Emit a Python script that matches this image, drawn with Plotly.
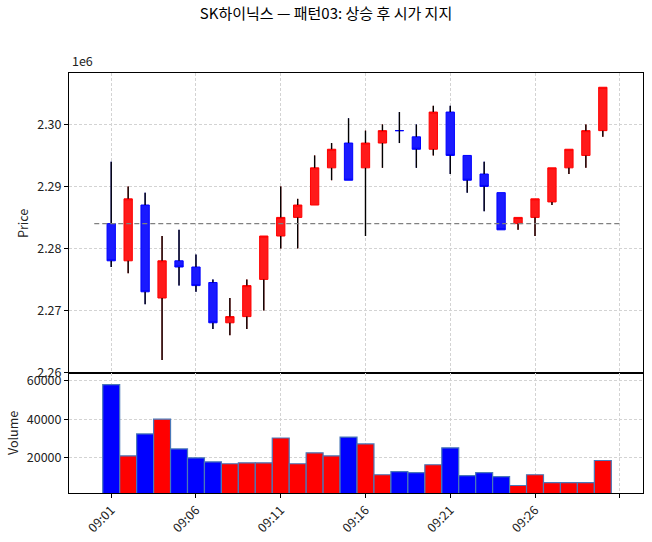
import plotly.graph_objects as go

TITLE = "SK하이닉스 — 패턴03: 상승 후 시가 지지"
TIMES = ["09:01", "09:02", "09:03", "09:04", "09:05", "09:06", "09:07", "09:08", "09:09", "09:10",
         "09:11", "09:12", "09:13", "09:14", "09:15", "09:16", "09:17", "09:18", "09:19", "09:20",
         "09:21", "09:22", "09:23", "09:24", "09:25", "09:26", "09:27", "09:28", "09:29", "09:30"]
OPEN = [2284000, 2278000, 2287000, 2272000, 2278000, 2277000, 2274500, 2268000, 2269000, 2275000,
        2282000, 2285000, 2287000, 2293000, 2297000, 2293000, 2297000, 2299000, 2298000, 2296000,
        2302000, 2295000, 2292000, 2289000, 2284000, 2285000, 2287500, 2293000, 2295000, 2299000]
HIGH = [2294000, 2290000, 2289000, 2282000, 2283000, 2279000, 2275000, 2272000, 2275000, 2282000,
        2290000, 2288000, 2295000, 2297000, 2301000, 2299000, 2300000, 2302000, 2300000, 2303000,
        2303000, 2295000, 2294000, 2289000, 2285000, 2288000, 2293000, 2296000, 2300000, 2306000]
LOW = [2277000, 2276000, 2271000, 2262000, 2274000, 2273000, 2267000, 2266000, 2267000, 2270000,
       2280000, 2280000, 2287000, 2291000, 2291000, 2282000, 2293000, 2297000, 2293000, 2295000,
       2292000, 2289000, 2286000, 2283000, 2283000, 2282000, 2287000, 2292000, 2293000, 2298000]
CLOSE = [2278000, 2288000, 2273000, 2278000, 2277000, 2274000, 2268000, 2269000, 2274000, 2282000,
         2285000, 2287000, 2293000, 2296000, 2291000, 2297000, 2299000, 2299000, 2296000, 2302000,
         2295000, 2291000, 2290000, 2283000, 2285000, 2288000, 2293000, 2296000, 2299000, 2306000]
VOLUME = [58100, 21000, 32400, 40100, 24600, 20000, 17900, 16900, 17400, 17400,
          30300, 16900, 22600, 21000, 30800, 27200, 11200, 12800, 12300, 16400,
          25200, 10700, 12300, 10200, 5600, 11200, 7100, 7100, 7100, 18600]
SUPPORT = 2284000
PRICE_TICKS = [2260000, 2270000, 2280000, 2290000, 2300000]
PRICE_TICK_TEXT = ["2.26", "2.27", "2.28", "2.29", "2.30"]
VOL_TICKS = [20000, 40000, 60000]
VOL_TICK_TEXT = ["20000", "40000", "60000"]
X_TICK_IDX = [0, 5, 10, 15, 20, 25, 30]

UP_FILL, UP_LINE = "#ff1a1a", "#ff0000"
DN_FILL, DN_LINE = "#1a1aff", "#0000ff"
FONT = "Noto Sans CJK KR"
TICK_SIZE = 12.5

n = len(TIMES)
xs = list(range(n))
up = [c > o for o, c in zip(OPEN, CLOSE)]

fig = go.Figure()

for is_up, fill, line in [(True, UP_FILL, UP_LINE), (False, DN_FILL, DN_LINE)]:
    idx = [i for i in xs if up[i] == is_up]
    fig.add_trace(go.Candlestick(
        x=[xs[i] for i in idx],
        open=[OPEN[i] for i in idx], high=[HIGH[i] for i in idx],
        low=[LOW[i] for i in idx], close=[CLOSE[i] for i in idx],
        increasing=dict(fillcolor=fill, line=dict(color=line, width=1)),
        decreasing=dict(fillcolor=fill, line=dict(color=line, width=1)),
        whiskerwidth=0, showlegend=False, hoverinfo="skip",
        xaxis="x", yaxis="y"))

wx, wy = [], []
for i in xs:
    top = max(OPEN[i], CLOSE[i])
    bot = min(OPEN[i], CLOSE[i])
    if HIGH[i] > top:
        wx += [xs[i], xs[i], None]
        wy += [HIGH[i], top, None]
    if LOW[i] < bot:
        wx += [xs[i], xs[i], None]
        wy += [bot, LOW[i], None]
fig.add_trace(go.Scatter(x=wx, y=wy, mode="lines", line=dict(color="black", width=1.4),
                         showlegend=False, hoverinfo="skip", xaxis="x", yaxis="y"))

fig.add_trace(go.Scatter(x=[-1, n], y=[SUPPORT, SUPPORT], mode="lines",
                         line=dict(color="#808080", width=1.2, dash="5px,3px"),
                         showlegend=False, hoverinfo="skip", xaxis="x", yaxis="y"))

fig.add_trace(go.Bar(x=xs, y=VOLUME, width=1.0,
                     marker=dict(color=[UP_LINE if u else DN_LINE for u in up],
                                 line=dict(color="#4a78b8", width=1.2)),
                     showlegend=False, hoverinfo="skip", xaxis="x2", yaxis="y2"))

xr = [-2.49, 31.37]
tick_text = [TIMES[i] if i < n else "" for i in X_TICK_IDX]
grid = dict(showgrid=True, gridcolor="#d3d3d3", gridwidth=0.8, griddash="3px,2px")
axis_common = dict(showline=True, linecolor="black", linewidth=1, mirror=True, zeroline=False,
                   automargin=False, tickfont=dict(family=FONT, size=TICK_SIZE, color="#222"))

fig.update_layout(
    width=652, height=542,
    margin=dict(l=69, r=9, t=73, b=49, autoexpand=False),
    paper_bgcolor="white", plot_bgcolor="white",
    title=dict(text=TITLE, x=0.5, xref="container", xanchor="center",
               y=1 - 14 / 542, yref="container", yanchor="middle",
               font=dict(family=FONT, size=15, color="black")),
    xaxis=dict(domain=[0, 1], range=xr, anchor="y", tickvals=X_TICK_IDX, ticktext=tick_text,
               showticklabels=False, ticks="", rangeslider=dict(visible=False),
               **grid, **axis_common),
    yaxis=dict(domain=[120 / 420, 1], range=[2259900, 2308300], anchor="x",
               tickvals=PRICE_TICKS, ticktext=PRICE_TICK_TEXT, ticks="outside",
               ticklen=4, tickcolor="black", **grid, **axis_common),
    xaxis2=dict(domain=[0, 1], range=xr, anchor="y2", matches="x", tickvals=X_TICK_IDX,
                ticktext=tick_text, tickangle=-45, ticks="outside", ticklen=4,
                tickcolor="black", **grid, **axis_common),
    yaxis2=dict(domain=[0, 120 / 420], range=[1700, 64100], anchor="x2",
                tickvals=VOL_TICKS, ticktext=VOL_TICK_TEXT, ticks="outside", ticklen=4,
                tickcolor="black", **grid, **axis_common),
    annotations=[
        dict(text="1e6", xref="paper", yref="paper", x=1 / 574, y=(493 - 72) / 420,
             xanchor="left", yanchor="bottom", showarrow=False,
             font=dict(family=FONT, size=TICK_SIZE, color="#222")),
        dict(text="Price", xref="paper", yref="paper", x=(22 - 69) / 574, y=(493 - 224) / 420,
             xanchor="center", yanchor="middle", textangle=-90, showarrow=False,
             font=dict(family=FONT, size=TICK_SIZE, color="#222")),
        dict(text="Volume", xref="paper", yref="paper", x=(12 - 69) / 574, y=(493 - 433) / 420,
             xanchor="center", yanchor="middle", textangle=-90, showarrow=False,
             font=dict(family=FONT, size=TICK_SIZE, color="#222")),
    ],
)

fig.write_html("out.html", config={"displayModeBar": False},
               post_script="document.body.style.margin='0';document.body.style.overflow='hidden';")
